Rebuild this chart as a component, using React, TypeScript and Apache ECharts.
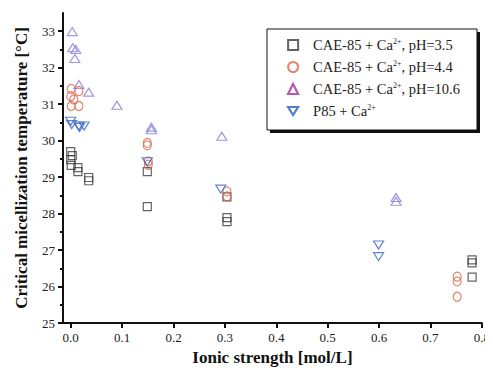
import React, { useEffect, useRef } from "react";
import * as echarts from "echarts";

const seriesNames = [
  "CAE-85 + Ca2+, pH=3.5",
  "CAE-85 + Ca2+, pH=4.4",
  "CAE-85 + Ca2+, pH=10.6",
  "P85 + Ca2+",
];
const legendLabels = [
  "CAE-85 + Ca{sup|2+}, pH=3.5",
  "CAE-85 + Ca{sup|2+}, pH=4.4",
  "CAE-85 + Ca{sup|2+}, pH=10.6",
  "P85 + Ca{sup|2+}",
];

const squaresPH35: [number, number][] = [
  [0.0, 29.7], [0.003, 29.59], [0.0, 29.48], [0.001, 29.32],
  [0.014, 29.26], [0.014, 29.15], [0.035, 28.99], [0.035, 28.9],
  [0.149, 29.15], [0.149, 28.19],
  [0.304, 28.46], [0.304, 27.89], [0.304, 27.78],
  [0.781, 26.73], [0.781, 26.65], [0.781, 26.26],
];
const circlesPH44: [number, number][] = [
  [0.001, 31.42], [0.0, 31.22], [0.006, 31.13], [0.016, 31.36],
  [0.001, 30.95], [0.016, 30.95],
  [0.149, 29.94], [0.149, 29.87], [0.151, 29.43], [0.151, 29.34],
  [0.304, 28.61], [0.304, 28.47],
  [0.752, 26.27], [0.752, 26.14], [0.752, 25.72],
];
const trianglesPH106: [number, number][] = [
  [0.003, 32.99], [0.004, 32.55], [0.01, 32.5], [0.008, 32.25],
  [0.016, 31.54], [0.035, 31.33], [0.09, 30.97],
  [0.157, 30.37], [0.157, 30.3], [0.294, 30.12],
  [0.633, 28.44], [0.633, 28.34],
];
const trianglesP85: [number, number][] = [
  [0.0, 30.53], [0.002, 30.44], [0.016, 30.4], [0.026, 30.4], [0.017, 30.36],
  [0.149, 29.42], [0.292, 28.67],
  [0.599, 27.14], [0.599, 26.82],
];

const xTicks = [0, 0.1, 0.2, 0.3, 0.4, 0.5, 0.6, 0.7, 0.8];
const yTicks = [25, 26, 27, 28, 29, 30, 31, 32, 33];

const colors = ["#3c3c3c", "#d8684a", "#8a80d6", "#3a66c4"];

export default function App() {
  const ref = useRef<HTMLDivElement>(null);
  useEffect(() => {
    if (!ref.current) return;
    const chart = echarts.init(ref.current, null, { renderer: "svg" });
    const font = "Liberation Serif";
    const axisCommon = {
      axisLine: { show: true, onZero: false, lineStyle: { color: "#111", width: 2 } },
      splitLine: { show: false },
      minorTick: { show: true, splitNumber: 2, length: 3, lineStyle: { color: "#111", width: 2 } },
      nameTextStyle: { fontFamily: font, fontSize: 17, fontWeight: "bold", color: "#111" },
    };
    const mk = (idx: number, data: [number, number][], symbol: string, size: any, rotate = 0) => ({
      type: "scatter",
      name: seriesNames[idx],
      data,
      symbol,
      symbolSize: size,
      symbolRotate: rotate,
      itemStyle: { color: "transparent", borderColor: colors[idx], borderWidth: 1.2 },
    });
    chart.setOption({
      animation: false,
      grid: { left: 63, right: 9, top: 13, bottom: 57 },
      xAxis: {
        type: "value",
        min: -0.015,
        max: 0.8,
        ...axisCommon,
        name: "Ionic strength [mol/L]",
        nameLocation: "middle",
        nameGap: 26,
        axisTick: { show: true, customValues: xTicks, length: 5, lineStyle: { color: "#111", width: 2 } },
        axisLabel: {
          customValues: xTicks,
          fontFamily: font,
          fontSize: 13,
          color: "#222",
          margin: 8,
          formatter: (v: number) => v.toFixed(1),
        },
      },
      yAxis: {
        type: "value",
        min: 25,
        max: 33.5,
        interval: 1,
        ...axisCommon,
        name: "Critical micellization temperature [°C]",
        nameLocation: "middle",
        nameGap: 33,
        axisTick: { show: true, customValues: yTicks, length: 5, lineStyle: { color: "#111", width: 2 } },
        axisLabel: {
          customValues: yTicks,
          fontFamily: font,
          fontSize: 13,
          color: "#222",
          margin: 8,
        },
      },
      graphic: [
        { type: "rect", z: 10, shape: { x: 270, y: 32, width: 210, height: 101 }, style: { fill: "#111" } },
        { type: "rect", z: 11, shape: { x: 267, y: 29, width: 210, height: 101 }, style: { fill: "#fff", stroke: "#111", lineWidth: 1 } },
      ],
      legend: {
        z: 20,
        orient: "vertical",
        left: 282,
        top: 32,
        itemWidth: 10,
        itemHeight: 10,
        itemGap: 6,
        data: [
          { name: seriesNames[0] },
          { name: seriesNames[1] },
          { name: seriesNames[2], itemStyle: { color: "transparent", borderColor: "#a8309a", borderWidth: 2.2 } },
          {
            name: seriesNames[3],
            icon: "path://M0,0 L10,0 L5,8 Z",
            itemStyle: { color: "transparent", borderColor: "#2a5cc0", borderWidth: 2.2 },
          },
        ],
        formatter: (name: string) => legendLabels[seriesNames.indexOf(name)],
        textStyle: {
          fontFamily: font,
          fontSize: 14.5,
          color: "#222",
          lineHeight: 16,
          padding: [0, 0, 0, 10],
          rich: {
            sup: { fontFamily: font, fontSize: 8, color: "#222", padding: [0, 0, 8, 0] },
          },
        },
      },
      series: [
        mk(0, squaresPH35, "rect", 8),
        mk(1, circlesPH44, "circle", [8, 9]),
        mk(2, trianglesPH106, "triangle", [10, 8]),
        mk(3, trianglesP85, "triangle", [10, 8], 180),
      ],
    });
    return () => chart.dispose();
  }, []);
  return <div ref={ref} style={{ width: 493, height: 380, margin: -8 }} />;
}
